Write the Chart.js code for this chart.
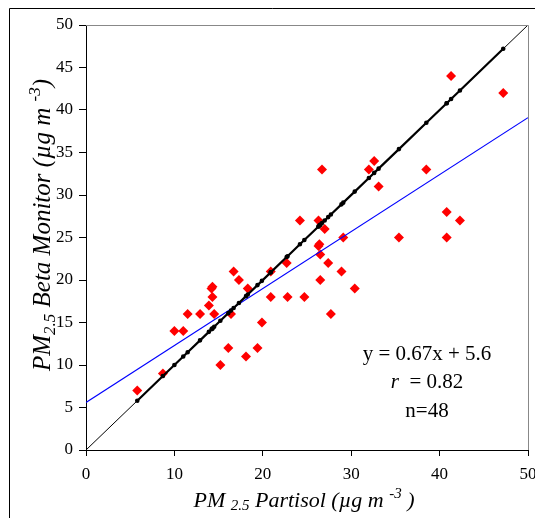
<!DOCTYPE html>
<html lang="en">
<head>
    <meta charset="UTF-8">
    <title>PM2.5 Beta Monitor vs Partisol</title>
    <script src="https://cdn.jsdelivr.net/npm/chart.js"></script>
    <style>
        body {
            margin: 0;
            background-color: #ffffff;
        }
        #wrap {
            width: 535px;
            height: 518px;
        }
    </style>
</head>
<body>

<div id="wrap">
    <canvas id="scatterChart" width="535" height="518"></canvas>
</div>

<script>
    // values
    const partisol = [5.8, 8.7, 10.0, 11.0, 11.5, 12.9, 13.9, 14.2, 14.3, 14.3, 14.5, 15.2,
        16.1, 16.4, 16.7, 17.3, 18.1, 18.3, 19.4, 19.9, 20.9, 20.9, 22.7, 22.8,
        24.2, 24.7, 26.3, 26.3, 26.4, 26.5, 26.5, 26.7, 27.0, 27.4, 27.7, 28.9,
        29.1, 30.4, 32.0, 32.6, 33.1, 35.4, 38.5, 40.8, 40.8, 41.3, 42.3, 47.2];
    const betaMonitor = [7, 9, 14, 14, 16, 16, 17, 19, 19.2, 18, 16, 10,
        12, 16, 21, 20, 11, 19, 12, 15, 21, 18, 22, 18,
        27, 18, 27, 24, 24.2, 23, 20, 33, 26, 22, 16, 21,
        25, 19, 33, 34, 31, 25, 33, 25, 28, 44, 27, 42];

    const slope = 0.67;
    const intercept = 5.6;
    const xTicks = [0, 10, 20, 30, 40, 50];
    const yTicks = [0, 5, 10, 15, 20, 25, 30, 35, 40, 45, 50];

    const serif = "'Liberation Serif', 'Times New Roman', serif";

    const obs = partisol.map((x, i) => ({ x: x, y: betaMonitor[i] }));
    const oneToOne = partisol.slice().sort((a, b) => a - b).map(x => ({ x: x, y: x }));
    const fit = [0, 50].map(x => ({ x: x, y: slope * x + intercept }));

    // draws a string made of normal / sub / sup pieces, centred on x
    function richText(ctx, parts, x, y, size, subDrop) {
        const small = Math.round(size * 0.68);
        let total = 0;
        parts.forEach(p => {
            ctx.font = 'italic ' + (p.s ? small : size) + 'px ' + serif;
            p.w = ctx.measureText(p.t).width;
            total += p.w;
        });
        let cx = x - total / 2;
        parts.forEach(p => {
            ctx.font = 'italic ' + (p.s ? small : size) + 'px ' + serif;
            let dy = 0;
            if (p.s === 'sub') dy = size * subDrop;
            if (p.s === 'sup') dy = -size * 0.42;
            ctx.fillText(p.t, cx, y + dy);
            cx += p.w;
        });
    }

    const decorations = {
        id: 'decorations',
        afterDraw(chart) {
            const ctx = chart.ctx;
            const a = chart.chartArea;
            ctx.save();

            // outer frame
            ctx.strokeStyle = '#000';
            ctx.lineWidth = 1;
            ctx.beginPath();
            ctx.moveTo(9.5, 518);
            ctx.lineTo(9.5, 8.5);
            ctx.lineTo(535, 8.5);
            ctx.stroke();

            // top and right edges of the plot
            ctx.strokeStyle = '#888';
            ctx.beginPath();
            ctx.moveTo(a.left, a.top + 0.5);
            ctx.lineTo(a.right + 0.5, a.top + 0.5);
            ctx.lineTo(a.right + 0.5, a.bottom);
            ctx.stroke();

            ctx.fillStyle = '#000';
            ctx.textBaseline = 'alphabetic';
            ctx.textAlign = 'left';

            // x title
            richText(ctx, [
                { t: 'PM ' },
                { t: '2.5', s: 'sub' },
                { t: ' Partisol (\u00b5g m ' },
                { t: '-3', s: 'sup' },
                { t: ' )' }
            ], 304, 507, 22, 0.15);

            // y title
            ctx.save();
            ctx.translate(43, 225);
            ctx.rotate(-Math.PI / 2);
            richText(ctx, [
                { t: 'PM' },
                { t: '2.5', s: 'sub' },
                { t: ' Beta Monitor (\u00b5g m ' },
                { t: '-3', s: 'sup' },
                { t: ')' }
            ], 0, 7, 25, 0.18);
            ctx.restore();

            // regression text
            ctx.textAlign = 'center';
            ctx.font = '21px ' + serif;
            ctx.fillText('y = 0.67x + 5.6', 427, 360);
            ctx.fillText('n=48', 427, 417);
            ctx.font = 'italic 21px ' + serif;
            const rw = ctx.measureText('r').width;
            ctx.font = '21px ' + serif;
            const restW = ctx.measureText('  = 0.82').width;
            const start = 427 - (rw + restW) / 2;
            ctx.textAlign = 'left';
            ctx.font = 'italic 21px ' + serif;
            ctx.fillText('r', start, 388);
            ctx.font = '21px ' + serif;
            ctx.fillText('  = 0.82', start + rw, 388);

            ctx.restore();
        }
    };

    new Chart(document.getElementById('scatterChart'), {
        type: 'scatter',
        data: {
            datasets: [
                {
                    label: '1:1 points',
                    data: oneToOne,
                    showLine: true,
                    borderColor: '#000',
                    backgroundColor: '#000',
                    borderWidth: 2.2,
                    pointRadius: 1.2,
                    pointHoverRadius: 1.2
                },
                {
                    label: '1:1',
                    data: [{ x: 0, y: 0 }, { x: 50, y: 50 }],
                    showLine: true,
                    borderColor: '#000',
                    borderWidth: 1,
                    pointRadius: 0
                },
                {
                    label: 'fit',
                    data: fit,
                    showLine: true,
                    borderColor: '#0000ff',
                    borderWidth: 1.2,
                    pointRadius: 0
                },
                {
                    label: 'PM2.5',
                    data: obs,
                    pointStyle: 'rectRot',
                    pointRadius: 5,
                    pointHoverRadius: 5,
                    borderWidth: 0,
                    backgroundColor: '#ff0000'
                }
            ]
        },
        options: {
            responsive: false,
            animation: false,
            layout: { padding: { top: 25, right: 7, left: 0, bottom: 0 } },
            plugins: {
                legend: { display: false },
                tooltip: { enabled: false }
            },
            scales: {
                x: {
                    type: 'linear',
                    min: 0,
                    max: 50,
                    afterFit: s => { s.height = 68; s.paddingLeft = 0; s.paddingRight = 0; },
                    afterBuildTicks: s => { s.ticks = xTicks.map(v => ({ value: v })); },
                    border: { display: true, color: '#000', width: 1 },
                    grid: { drawOnChartArea: false, drawTicks: true, tickLength: 6, color: '#000' },
                    ticks: { color: '#000', font: { family: serif, size: 17 }, padding: 8, maxRotation: 0 }
                },
                y: {
                    type: 'linear',
                    min: 0,
                    max: 50,
                    afterFit: s => { s.width = 86; s.paddingTop = 0; s.paddingBottom = 0; },
                    afterBuildTicks: s => { s.ticks = yTicks.map(v => ({ value: v })); },
                    border: { display: true, color: '#000', width: 1 },
                    grid: { drawOnChartArea: false, drawTicks: true, tickLength: 7, color: '#000' },
                    ticks: { color: '#000', font: { family: serif, size: 17 }, padding: 6 }
                }
            }
        },
        plugins: [decorations]
    });
</script>
</body>
</html>
